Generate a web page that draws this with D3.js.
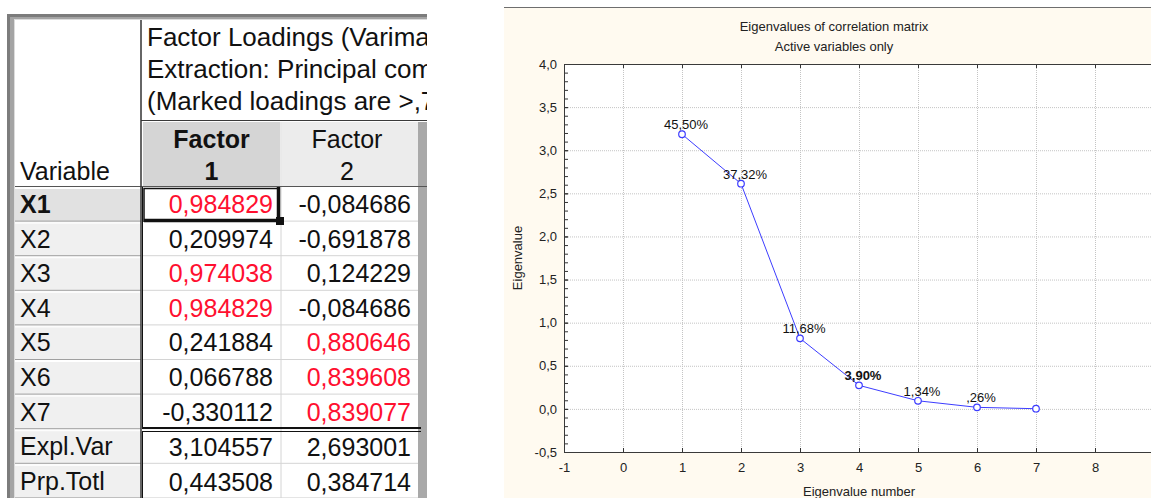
<!DOCTYPE html>
<html>
<head>
<meta charset="utf-8">
<script src="https://cdn.jsdelivr.net/npm/d3@7.9.0/dist/d3.min.js"></script>
<style>
  body { margin: 0; background: #fff; }
  svg { display: block; font-family: "Liberation Sans", Arial, sans-serif; }
</style>
</head>
<body>
<svg id="fig" width="1151" height="498"></svg>
<script>
// ---- table data ----
const variables = ['X1', 'X2', 'X3', 'X4', 'X5', 'X6', 'X7'];
const factor1 = [0.984829, 0.209974, 0.974038, 0.984829, 0.241884, 0.066788, -0.330112];
const factor2 = [-0.084686, -0.691878, 0.124229, -0.084686, 0.880646, 0.839608, 0.839077];
const summaryLabels = ['Expl.Var', 'Prp.Totl'];
const summary1 = [3.104557, 0.443508];
const summary2 = [2.693001, 0.384714];
const titleLines = ['Factor Loadings (Varimax raw)', 'Extraction: Principal components', '(Marked loadings are >,700000)'];
const markLimit = 0.7;

// ---- scree plot data ----
const eigenNumber = [1, 2, 3, 4, 5, 6, 7];
const eigenvalues = [3.185, 2.612, 0.818, 0.273, 0.094, 0.018, 0.002];
const pctExplained = [45.50, 37.32, 11.68, 3.90, 1.34, 0.26, null];
const xTicks = [-1, 0, 1, 2, 3, 4, 5, 6, 7, 8, 9];
const yTicks = [-0.5, 0, 0.5, 1, 1.5, 2, 2.5, 3, 3.5, 4];

const svg = d3.select('#fig');
// decimal comma, plain hyphen for minus
const comma = f => v => f(v).replace('.', ',').replace('\u2212', '-');
const fmt6 = comma(d3.format('.6f'));
const fmt1 = comma(d3.format('.1f'));
const fmtInt = comma(d3.format('d'));
const fmtPct = v => d3.format('.2f')(v).replace(/^0/, '').replace('.', ',') + '%';

// =========== table ===========
svg.append('defs').append('clipPath').attr('id', 'tclip')
  .append('rect').attr('x', 0).attr('y', 0).attr('width', 427).attr('height', 498);

const tbl = svg.append('g').attr('clip-path', 'url(#tclip)');
const FS = 25;
const rowTop = i => 187 + i * 34.6;
const rowH = 34.6;
const colL = [15, 143, 282];
const colR = [141, 280, 418];

// outer frame
tbl.append('rect').attr('x', 7).attr('y', 14).attr('width', 430).attr('height', 490).attr('fill', '#7c7c7c');
tbl.append('rect').attr('x', 10).attr('y', 17).attr('width', 430).attr('height', 490).attr('fill', '#a4a4a4');
tbl.append('rect').attr('x', 14).attr('y', 19).attr('width', 430).attr('height', 490).attr('fill', '#dcdcdc');
tbl.append('rect').attr('x', 15).attr('y', 20).attr('width', 430).attr('height', 490).attr('fill', '#fff');

// header cells
tbl.append('rect').attr('x', colL[1]).attr('y', 122).attr('width', colR[1] - colL[1]).attr('height', 64).attr('fill', '#d5d5d5');
tbl.append('rect').attr('x', colL[2]).attr('y', 122).attr('width', colR[2] - colL[2]).attr('height', 64).attr('fill', '#ececec');

// row label cells
const allLabels = variables.concat(summaryLabels);
allLabels.forEach((lab, i) => {
  tbl.append('rect').attr('x', 15).attr('y', rowTop(i) + 1).attr('width', 125).attr('height', rowH - 1)
    .attr('fill', i === 0 ? '#e1e1e1' : '#f0f0f0');
  tbl.append('line').attr('x1', 15).attr('x2', 141).attr('y1', rowTop(i) + rowH - 0.5).attr('y2', rowTop(i) + rowH - 0.5)
    .attr('stroke', '#a0a0a0');
  tbl.append('line').attr('x1', 15).attr('x2', 141).attr('y1', rowTop(i) + 1.5).attr('y2', rowTop(i) + 1.5)
    .attr('stroke', '#fff');
});

// data grid lines
for (let i = 0; i < allLabels.length; i++) {
  tbl.append('line').attr('x1', 142).attr('x2', 418).attr('y1', rowTop(i) + rowH - 0.5).attr('y2', rowTop(i) + rowH - 0.5)
    .attr('stroke', '#d4d4d4');
}
tbl.append('line').attr('x1', 281).attr('x2', 281).attr('y1', 122).attr('y2', 498).attr('stroke', '#d4d4d4');

// right grey strip
tbl.append('rect').attr('x', 418).attr('y', 122).attr('width', 12).attr('height', 380).attr('fill', '#a9a9a9');

// structure lines
tbl.append('line').attr('x1', 141).attr('x2', 427).attr('y1', 120.5).attr('y2', 120.5).attr('stroke', '#3a3a3a');
tbl.append('line').attr('x1', 15).attr('x2', 427).attr('y1', 186.5).attr('y2', 186.5).attr('stroke', '#555');
tbl.append('line').attr('x1', 141).attr('x2', 141).attr('y1', 20).attr('y2', 498).attr('stroke', '#333').attr('stroke-width', 1.5);
// black block outlines
tbl.append('line').attr('x1', 142.5).attr('x2', 142.5).attr('y1', 187).attr('y2', 429).attr('stroke', '#111');
tbl.append('line').attr('x1', 142).attr('x2', 421).attr('y1', 428).attr('y2', 428).attr('stroke', '#111').attr('stroke-width', 2);
tbl.append('line').attr('x1', 142).attr('x2', 421).attr('y1', 431.5).attr('y2', 431.5).attr('stroke', '#111');
tbl.append('line').attr('x1', 142.5).attr('x2', 142.5).attr('y1', 431).attr('y2', 498).attr('stroke', '#111');

// title
titleLines.forEach((t, i) => {
  tbl.append('text').attr('x', 147).attr('y', 46 + i * 32).attr('font-size', 26).attr('fill', '#111').text(t);
});
tbl.append('text').attr('x', 20).attr('y', 180).attr('font-size', FS).attr('fill', '#111').text('Variable');
const cx1 = (colL[1] + colR[1]) / 2, cx2 = (colL[2] + colR[2]) / 2 - 3;
tbl.append('text').attr('x', cx1).attr('y', 148).attr('text-anchor', 'middle').attr('font-size', FS).attr('font-weight', 'bold').attr('fill', '#111').text('Factor');
tbl.append('text').attr('x', cx1).attr('y', 180).attr('text-anchor', 'middle').attr('font-size', FS).attr('font-weight', 'bold').attr('fill', '#111').text('1');
tbl.append('text').attr('x', cx2).attr('y', 148).attr('text-anchor', 'middle').attr('font-size', FS).attr('fill', '#111').text('Factor');
tbl.append('text').attr('x', cx2).attr('y', 180).attr('text-anchor', 'middle').attr('font-size', FS).attr('fill', '#111').text('2');

// row labels and values
allLabels.forEach((lab, i) => {
  tbl.append('text').attr('x', 20).attr('y', rowTop(i) + 26).attr('font-size', FS)
    .attr('font-weight', i === 0 ? 'bold' : 'normal').attr('fill', '#111').text(lab);
});
const markColor = v => Math.abs(v) > markLimit ? '#ff1030' : '#111';
variables.forEach((v, i) => {
  tbl.append('text').attr('x', 273).attr('y', rowTop(i) + 26).attr('text-anchor', 'end').attr('font-size', FS)
    .attr('fill', markColor(factor1[i])).text(fmt6(factor1[i]));
  tbl.append('text').attr('x', 411).attr('y', rowTop(i) + 26).attr('text-anchor', 'end').attr('font-size', FS)
    .attr('fill', markColor(factor2[i])).text(fmt6(factor2[i]));
});
summaryLabels.forEach((s, j) => {
  const i = variables.length + j;
  tbl.append('text').attr('x', 273).attr('y', rowTop(i) + 27).attr('text-anchor', 'end').attr('font-size', FS)
    .attr('fill', '#111').text(fmt6(summary1[j]));
  tbl.append('text').attr('x', 411).attr('y', rowTop(i) + 27).attr('text-anchor', 'end').attr('font-size', FS)
    .attr('fill', '#111').text(fmt6(summary2[j]));
});

// selected cell cursor
tbl.append('path')
  .attr('d', `M144,222 V188.5 H279`)
  .attr('fill', 'none').attr('stroke', '#111').attr('stroke-width', 1.5);
tbl.append('path')
  .attr('d', `M144,220.5 H278.5 V187`)
  .attr('fill', 'none').attr('stroke', '#111').attr('stroke-width', 3.5);
tbl.append('rect').attr('x', 276).attr('y', 217).attr('width', 8).attr('height', 8).attr('fill', '#111');

// =========== scree plot ===========
svg.append('rect').attr('x', 504).attr('y', 7).attr('width', 660).attr('height', 491).attr('fill', '#fffaf0');
svg.append('line').attr('x1', 504).attr('x2', 1151).attr('y1', 7.5).attr('y2', 7.5).attr('stroke', '#6e6e6e');

const x = d3.scaleLinear().domain([-1, 9]).range([564, 1154]);
const y = d3.scaleLinear().domain([-0.5, 4]).range([452, 64]);

svg.append('rect').attr('x', x(-1)).attr('y', y(4)).attr('width', x(9) - x(-1)).attr('height', y(-0.5) - y(4))
  .attr('fill', '#fff');

const grid = svg.append('g').attr('stroke', '#c4c4c4').attr('stroke-dasharray', '1,1');
grid.selectAll('.gx').data(xTicks.slice(1, -1)).join('line')
  .attr('x1', d => x(d) + 0.5).attr('x2', d => x(d) + 0.5).attr('y1', y(4)).attr('y2', y(-0.5));
grid.selectAll('.gy').data(yTicks.slice(1, -1)).join('line')
  .attr('y1', d => y(d) + 0.5).attr('y2', d => y(d) + 0.5).attr('x1', x(-1)).attr('x2', x(9));

function styleAxis(g) {
  g.select('.domain').remove();
  g.selectAll('.tick line').attr('stroke', '#333');
  g.selectAll('.tick text').attr('fill', '#222').attr('font-size', 13)
    .attr('font-family', '"Liberation Sans", Arial, sans-serif');
}

svg.append('g').attr('transform', `translate(${x(-1)},0)`)
  .call(d3.axisLeft(y).tickValues(d3.range(-5, 41).map(d => d / 10)).tickSize(-4).tickFormat(''))
  .call(styleAxis);
svg.append('g').attr('transform', `translate(${x(-1)},0)`)
  .call(d3.axisLeft(y).tickValues(yTicks).tickSize(-4).tickPadding(7).tickFormat(fmt1))
  .call(styleAxis);
svg.append('g').attr('transform', `translate(0,${y(-0.5)})`)
  .call(d3.axisBottom(x).tickValues(xTicks).tickSize(-4).tickPadding(11).tickFormat(fmtInt))
  .call(styleAxis);
svg.append('g').attr('transform', `translate(0,${y(4)})`)
  .call(d3.axisTop(x).tickValues(xTicks).tickSize(-4).tickFormat(''))
  .call(styleAxis);

// frame
svg.append('path')
  .attr('d', `M${x(9)},${y(4) + 0.5} H${x(-1) + 0.5} V${y(-0.5) + 0.5} H${x(9)}`)
  .attr('fill', 'none').attr('stroke', '#3a3a3a');

// titles
svg.append('text').attr('x', 834).attr('y', 30.5).attr('text-anchor', 'middle').attr('font-size', 13).attr('fill', '#222')
  .text('Eigenvalues of correlation matrix');
svg.append('text').attr('x', 834).attr('y', 50.5).attr('text-anchor', 'middle').attr('font-size', 13).attr('fill', '#222')
  .text('Active variables only');
svg.append('text').attr('x', 859).attr('y', 495.5).attr('text-anchor', 'middle').attr('font-size', 13).attr('fill', '#222')
  .text('Eigenvalue number');
svg.append('text').attr('transform', 'translate(522,258) rotate(-90)').attr('text-anchor', 'middle').attr('font-size', 13).attr('fill', '#222')
  .text('Eigenvalue');

// line + markers
const pts = eigenNumber.map((n, i) => ({ n, v: eigenvalues[i], p: pctExplained[i] }));
const lineColor = '#3d3dff';
svg.append('path').datum(pts)
  .attr('d', d3.line().x(d => x(d.n)).y(d => y(d.v)))
  .attr('fill', 'none').attr('stroke', lineColor).attr('stroke-width', 1);
svg.selectAll('.pt').data(pts).join('circle')
  .attr('cx', d => x(d.n)).attr('cy', d => y(d.v)).attr('r', 3.3)
  .attr('fill', '#fff').attr('stroke', lineColor).attr('stroke-width', 1.2);
svg.selectAll('.lab').data(pts.filter(d => d.p !== null)).join('text')
  .attr('x', d => x(d.n) + 4).attr('y', d => y(d.v) - 5)
  .attr('text-anchor', 'middle').attr('font-size', 13).attr('fill', '#111')
  .attr('font-weight', d => d.n === 4 ? 'bold' : 'normal')
  .text(d => fmtPct(d.p));
</script>
</body>
</html>
